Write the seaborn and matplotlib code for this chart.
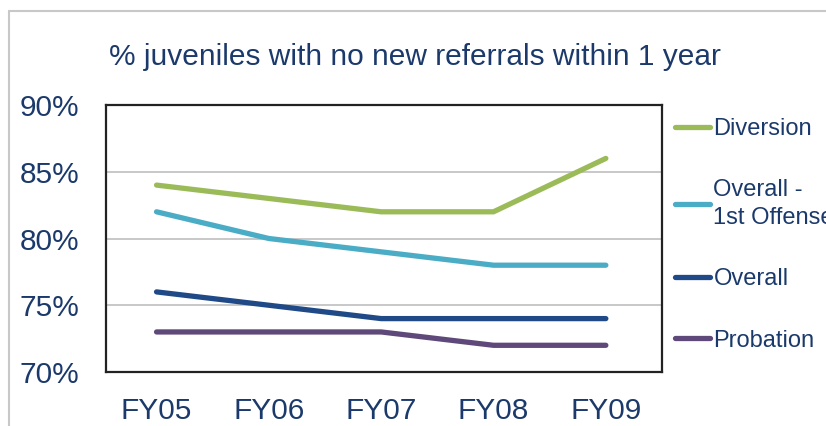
import pandas as pd
import matplotlib.pyplot as plt
import seaborn as sns
from matplotlib.lines import Line2D

# Data
years = ["FY05", "FY06", "FY07", "FY08", "FY09"]
diversion = [84, 83, 82, 82, 86]
first_offense = [82, 80, 79, 78, 78]
overall = [76, 75, 74, 74, 74]
probation = [73, 73, 73, 72, 72]

series_names = ["Diversion", "Overall -\n1st Offense", "Overall", "Probation"]
series_values = [diversion, first_offense, overall, probation]
colors = ["#9BBB59", "#4BACC6", "#1F4A87", "#5F497A"]

text_color = "#1B3A6B"

# Long format for seaborn
rows = []
for name, vals in zip(series_names, series_values):
    for yr, v in zip(years, vals):
        rows.append({"Year": yr, "Value": v, "Series": name})
df = pd.DataFrame(rows)

sns.set_style("white")
plt.rcParams["font.family"] = ["Liberation Sans", "DejaVu Sans"]

fig = plt.figure(figsize=(8.26, 4.26), dpi=100)
ax = fig.add_axes([106 / 826, 54 / 426, 556 / 826, 267 / 426])

sns.lineplot(
    data=df, x="Year", y="Value", hue="Series", palette=colors,
    sort=False, linewidth=3.8, ax=ax, legend=False,
    solid_capstyle="round",
)

ax.set_ylim(70, 90)
ax.set_xlim(-0.45, 4.5)
ax.set_yticks([70, 75, 80, 85, 90])
ax.set_yticklabels([f"{t}%" for t in [70, 75, 80, 85, 90]])
ax.grid(axis="y", color="#BFBFBF", linewidth=1.2)
ax.set_axisbelow(True)
ax.set_xlabel("")
ax.set_ylabel("")
ax.tick_params(axis="y", length=0, pad=19, labelsize=21.5, labelcolor=text_color)
ax.tick_params(axis="x", length=0, pad=18, labelsize=21.5, labelcolor=text_color)
for sp in ax.spines.values():
    sp.set_visible(True)
    sp.set_color("#222222")
    sp.set_linewidth(1.6)

# Legend
handles = [Line2D([0], [0], color=c, linewidth=3.8) for c in colors]
leg = fig.legend(
    handles, series_names, loc="upper left",
    bbox_to_anchor=(675 / 826, 1 - 118 / 426), frameon=False,
    fontsize=17, labelspacing=1.66, handlelength=1.5, handletextpad=0.13,
    borderpad=0, borderaxespad=0,
)
for t in leg.get_texts():
    t.set_color(text_color)
    t.set_linespacing(1.35)

# Title
fig.text(415 / 826, 1 - 57 / 426, "% juveniles with no new referrals within 1 year",
         ha="center", va="center", fontsize=21.5, color=text_color)

# Outer frame
fig.add_artist(Line2D([9 / 826, 9 / 826], [0, 1 - 11 / 426], color="#C8C8C8", linewidth=1.5))
fig.add_artist(Line2D([9 / 826, 1], [1 - 11 / 426, 1 - 11 / 426], color="#C8C8C8", linewidth=1.5))

fig.savefig("out.png", dpi=100)
